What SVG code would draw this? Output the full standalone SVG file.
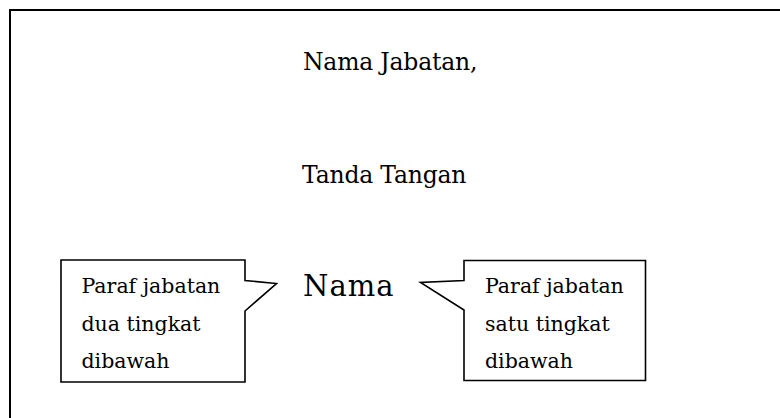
<svg xmlns="http://www.w3.org/2000/svg" width="780" height="418" viewBox="0 0 780 418">
<style>
.t{font-family:"DejaVu Serif","Liberation Serif",serif;fill:#000}
.big{font-size:23.5px;letter-spacing:-0.2px}
.name{font-size:29px;letter-spacing:1px}
.small{font-size:20.5px}
.box{fill:#fff;stroke:#000;stroke-width:1.6}
</style>
<rect x="0" y="0" width="780" height="418" fill="#fff"/>
<rect id="frame" x="10" y="10" width="800" height="430" fill="none" stroke="#000" stroke-width="2"/>
<g id="title"><text class="t big" x="303" y="69.5">Nama Jabatan,</text></g>
<g id="signature"><text class="t big" x="302" y="183">Tanda Tangan</text></g>
<g id="name"><text class="t name" x="303" y="296">Nama</text></g>
<g id="callout-left">
<path class="box" d="M61,260 H245 V280.5 L276.5,283.5 L245,311 V382 H61 Z"/>
<text class="t small" x="81.5" y="293">Paraf jabatan</text>
<text class="t small" x="81.5" y="331">dua tingkat</text>
<text class="t small" x="81.5" y="368">dibawah</text>
</g>
<g id="callout-right">
<path class="box" d="M464,260.5 H645.5 V380.5 H464 V310 L420.5,282.5 L464,280.5 Z"/>
<text class="t small" x="485" y="293">Paraf jabatan</text>
<text class="t small" x="485" y="331">satu tingkat</text>
<text class="t small" x="485" y="368">dibawah</text>
</g>
<g id="connectors"></g>
</svg>
